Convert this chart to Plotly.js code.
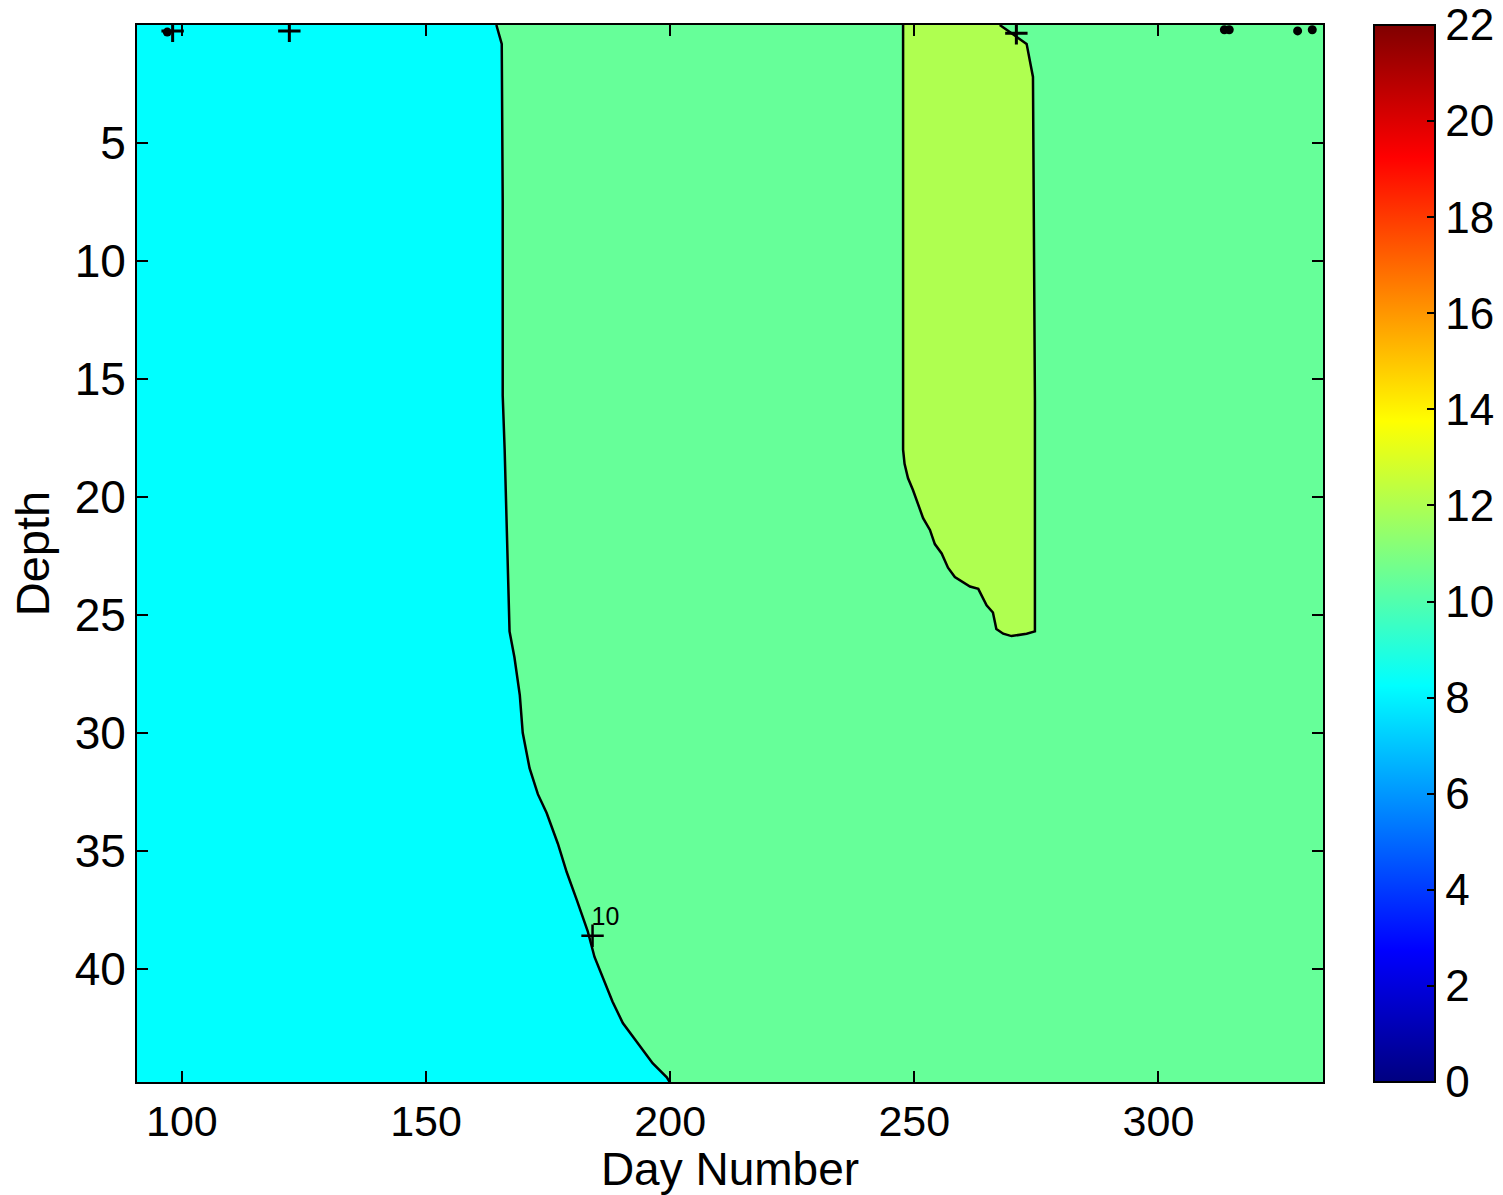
<!DOCTYPE html>
<html>
<head>
<meta charset="utf-8">
<script src="https://cdn.plot.ly/plotly-3.0.1.min.js"></script>
<style>
html,body{margin:0;padding:0;background:#fff;}
#chart{width:1503px;height:1195px;}
</style>
</head>
<body>
<div id="chart"></div>
<script>
// Axis extents (data units)
const dayRange = [90.8, 333.7];
const depthRange = [44.8, 0];
const xTicks = [100, 150, 200, 250, 300];
const yTicks = [5, 10, 15, 20, 25, 30, 35, 40];
const cbTicks = [0, 2, 4, 6, 8, 10, 12, 14, 16, 18, 20, 22];
const cMin = 0, cMax = 22;

// 10-degree contour (cyan | green boundary)
const c10Days   = [164.4, 165.5, 165.7, 165.7, 166.1, 166.7, 167.1, 168.1, 169.2, 169.8, 171.2, 172.9, 174.7, 177.0, 178.8, 180.9, 183.1, 184.5, 186.6, 188.2, 190.3, 193.2, 196.4, 199.3, 199.9];
const c10Depths = [0.0,   0.8,   7.5,   15.7,  18.0,  22.3,  25.7,  26.8,  28.4,  30.0,  31.5,  32.6,  33.4,  34.7,  35.9,  37.1,  38.4,  39.5,  40.6,  41.4,  42.3,  43.1,  44.0,  44.6,  44.8];

// 12-degree contour (green | yellow-green patch)
const c12Days   = [267.5, 273.0, 274.3, 274.5, 274.7, 274.7, 273.0, 269.9, 268.2, 266.8, 266.1, 264.8, 263.8, 263.1, 261.4, 259.7, 258.3, 256.9, 255.6, 254.2, 253.2, 251.8, 250.8, 249.7, 248.7, 248.0, 247.7, 247.7];
const c12Depths = [0.0,   0.8,   2.2,   7.5,   15.9,  25.7,  25.8,  25.9,  25.8,  25.6,  24.9,  24.6,  24.2,  23.9,  23.8,  23.6,  23.4,  23.0,  22.4,  22.0,  21.4,  20.9,  20.3,  19.7,  19.2,  18.6,  18.0,  0.0];

// contour label
const labelDay = [184.1], labelDepth = [38.6], labelText = ['10'];
const labelTextDay = [183.9], labelTextDepth = [37.9];

// small surface artifacts along the top
const plusDays = [98.1, 122.0, 270.9];
const plusDepths = [0.25, 0.25, 0.35];
const blobDays = [97.0, 313.5, 314.5, 328.5, 331.5];
const blobDepths = [0.3, 0.2, 0.2, 0.25, 0.2];

// colours
const cyanFill = 'rgb(0,255,255)';
const greenFill = 'rgb(102,255,153)';
const ygFill = 'rgb(175,255,80)';
const jet = [[0,'rgb(0,0,128)'],[0.125,'rgb(0,0,255)'],[0.375,'rgb(0,255,255)'],[0.625,'rgb(255,255,0)'],[0.875,'rgb(255,0,0)'],[1,'rgb(128,0,0)']];

const FONT = 'Liberation Sans, Arial, Helvetica, sans-serif';

const traces = [];
// cyan region: from left axis to the 10 contour
traces.push({
  x: [dayRange[0]].concat(c10Days, [dayRange[0]]),
  y: [depthRange[1]].concat(c10Depths, [depthRange[0]]),
  type: 'scatter', mode: 'lines', fill: 'toself', fillcolor: cyanFill,
  line: {width: 0}, hoverinfo: 'skip', showlegend: false
});
// yellow-green patch
traces.push({
  x: c12Days, y: c12Depths,
  type: 'scatter', mode: 'lines', fill: 'toself', fillcolor: ygFill,
  line: {width: 0}, hoverinfo: 'skip', showlegend: false
});
// contour lines
traces.push({x: c10Days, y: c10Depths, type: 'scatter', mode: 'lines', line: {color: '#000', width: 2.5}, showlegend: false, hoverinfo: 'skip'});
traces.push({x: c12Days, y: c12Depths, type: 'scatter', mode: 'lines', line: {color: '#000', width: 2.5}, showlegend: false, hoverinfo: 'skip'});
// label markers
traces.push({x: labelDay, y: labelDepth, type: 'scatter', mode: 'markers',
  marker: {symbol: 'cross-thin', size: 16, line: {color: '#000', width: 2.5}}, showlegend: false, hoverinfo: 'skip'});
traces.push({x: labelTextDay, y: labelTextDepth, text: labelText, type: 'scatter', mode: 'text',
  textposition: 'middle right', textfont: {family: FONT, size: 25, color: '#000'}, showlegend: false, hoverinfo: 'skip'});
traces.push({x: plusDays, y: plusDepths, type: 'scatter', mode: 'markers',
  marker: {symbol: 'cross-thin', size: 16, line: {color: '#000', width: 3}}, showlegend: false, hoverinfo: 'skip', cliponaxis: true});
traces.push({x: blobDays, y: blobDepths, type: 'scatter', mode: 'markers',
  marker: {symbol: 'circle', size: 9, color: '#000'}, showlegend: false, hoverinfo: 'skip', cliponaxis: true});
// colour bar carrier
traces.push({
  x: [null], y: [null], type: 'scatter', mode: 'markers', showlegend: false, hoverinfo: 'skip',
  marker: {color: [cMin], cmin: cMin, cmax: cMax, colorscale: jet, showscale: true,
    colorbar: {
      x: 1.043, xanchor: 'left', xref: 'paper', xpad: 0,
      y: 0.5, yanchor: 'middle', yref: 'paper', ypad: 0,
      len: 1, lenmode: 'fraction', thickness: 61, thicknessmode: 'pixels',
      outlinewidth: 2, outlinecolor: '#000',
      tickmode: 'array', tickvals: cbTicks, ticktext: cbTicks.map(String),
      ticks: 'inside', ticklen: 9, tickwidth: 2, tickcolor: '#000',
      tickfont: {family: FONT, size: 44, color: '#000'}
    }}
});

const layout = {
  width: 1503, height: 1195,
  margin: {l: 137, r: 180, t: 25, b: 113, autoexpand: false},
  paper_bgcolor: '#fff', plot_bgcolor: greenFill,
  showlegend: false,
  font: {family: FONT, color: '#000'},
  xaxis: {
    range: dayRange, tickmode: 'array', tickvals: xTicks, ticktext: xTicks.map(String),
    ticks: 'inside', ticklen: 11, tickwidth: 2, tickcolor: '#000',
    showline: true, linecolor: '#000', linewidth: 2, mirror: 'allticks',
    showgrid: false, zeroline: false, automargin: false,
    tickfont: {family: FONT, size: 43, color: '#000'},
    title: {text: 'Day Number', font: {family: FONT, size: 46, color: '#000'}, standoff: 6}
  },
  yaxis: {
    range: depthRange, tickmode: 'array', tickvals: yTicks, ticktext: yTicks.map(String),
    ticks: 'inside', ticklen: 11, tickwidth: 2, tickcolor: '#000',
    showline: true, linecolor: '#000', linewidth: 2, mirror: 'allticks',
    showgrid: false, zeroline: false, automargin: false,
    tickfont: {family: FONT, size: 46, color: '#000'},
    title: {text: 'Depth', font: {family: FONT, size: 47, color: '#000'}, standoff: 10}
  }
};

Plotly.newPlot('chart', traces, layout, {staticPlot: true, displayModeBar: false});
</script>
</body>
</html>
